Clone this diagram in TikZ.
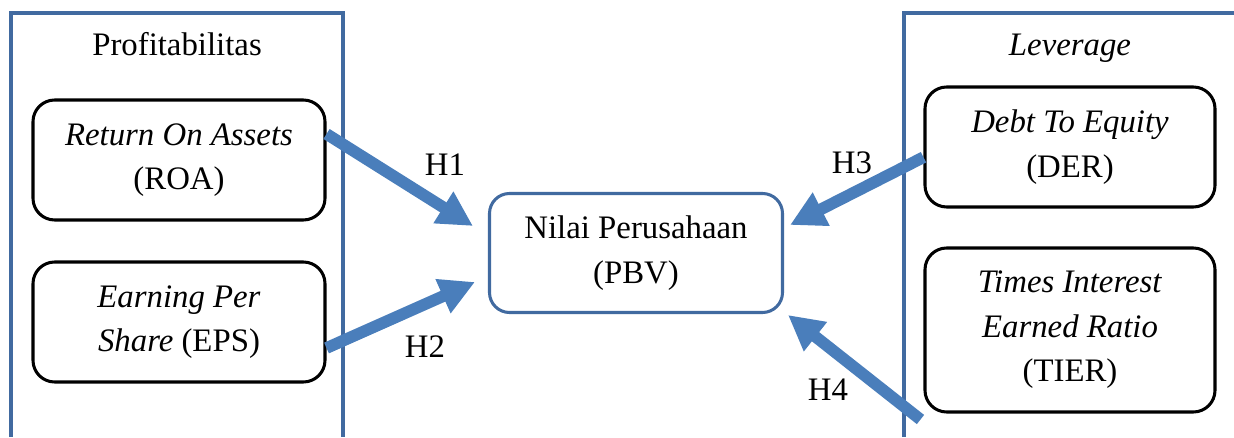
\documentclass[tikz,border=0pt]{standalone}
\usepackage{fontspec}
\setmainfont{Liberation Serif}
\usetikzlibrary{arrows.meta,calc,positioning}
\definecolor{frameB}{RGB}{65,106,160}
\definecolor{arrowB}{RGB}{74,126,187}

\begin{document}
\begin{tikzpicture}[x=0.3mm,y=0.3mm,
  font=\fontsize{28}{38}\selectfont,
  var/.style={draw=black,line width=2.6pt,rounded corners=6.5mm,align=center,
    minimum width=87.6mm,minimum height=36mm,inner sep=0pt},
  hyp/.style={draw=arrowB,line width=10pt,-{Triangle[length=10.5mm,width=10.5mm]}},
  frame/.style={draw=frameB,line width=2.6pt}]
  \useasboundingbox (0,0) rectangle (1234,437);
  % frames
  \draw[frame] (11,0) -- (11,424) -- (343,424) -- (343,0);
  \draw[frame] (904,0) -- (904,424) -- (1234,424);
  \node (prof) at (177,393) {Profitabilitas};
  \node (lev) at (1070,389) {\textit{Leverage}};
  % independent variables
  \node[var] (roa) at (179,277) {\textit{Return On Assets}\\(ROA)};
  \node[var] (eps) at (179,115) {\textit{Earning Per}\\\textit{Share} (EPS)};
  \node[var,minimum width=87mm] (der) at (1070,290) {\textit{Debt To Equity}\\(DER)};
  \node[var,minimum width=87mm,minimum height=49.2mm] (tier) at (1070,107)
    {\textit{Times Interest}\\\textit{Earned Ratio}\\(TIER)};
  % dependent variable
  \node[var,draw=frameB,rounded corners=6mm,minimum width=87.9mm,minimum height=35.7mm]
    (pbv) at (636,184) {Nilai Perusahaan\\(PBV)};
  % hypotheses
  \draw[hyp] (roa.10) -- ($(pbv.west)+(-15,27)$);
  \draw[hyp] (eps.-10) -- ($(pbv.west)+(-13,-29)$);
  \draw[hyp] (der.184) -- ($(pbv.east)+(6,28)$);
  \draw[hyp] ($(tier.south west)+(-3,-6)$) -- ($(pbv.south east)+(4,-1)$);
  \node (h1) at (445,272) {H1};
  \node (h2) at (425,90) {H2};
  \node (h3) at (852,274) {H3};
  \node (h4) at (828,47) {H4};
\end{tikzpicture}
\end{document}
